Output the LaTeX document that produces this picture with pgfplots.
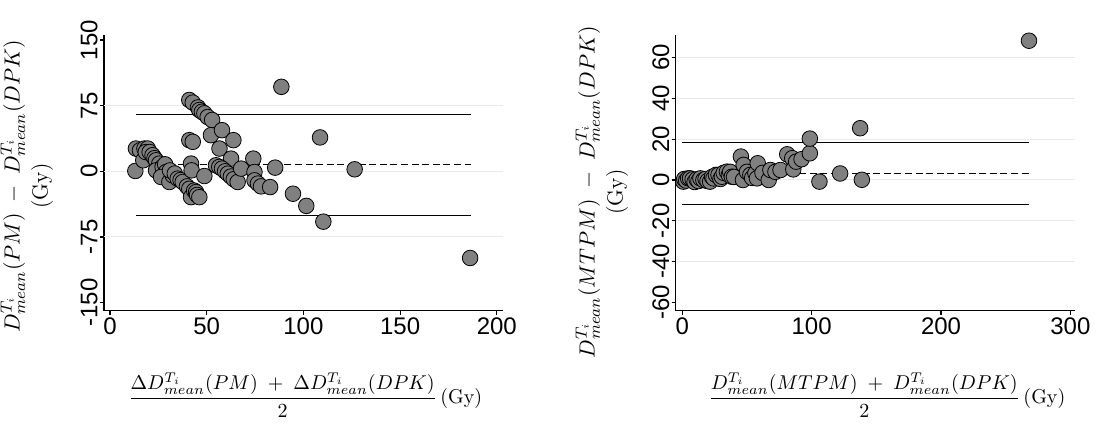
\documentclass[border=0pt]{standalone}
\usepackage{fontspec}
\usepackage{amsmath}
\usepackage{pgfplots}
\usepackage{pgfplotstable}
\pgfplotsset{compat=1.18}
\newfontfamily\arial{Liberation Sans}
\definecolor{mk}{RGB}{128,128,128}
\definecolor{grd}{RGB}{234,234,234}

\pgfplotstableread{
x y
13.1 0.4
13.4 26
15.5 24
17.2 12.6
17.8 26
19.5 26
18.5 22
20.5 22
22.0 18.4
23.0 15
23.8 12.6
25.5 8.8
23.8 1.1
27.2 5
28.5 8.0
29.0 -0.8
26.4 -6.5
30.7 -12.2
32.4 -4.6
31.0 1
33.5 -2.5
35.0 -8.4
36.5 -10
37.6 -12.2
39.8 -17.2
41.0 -20
41.9 -29.5
43.5 -22
44.5 -23.7
45.0 -27
46.2 -29.5
41.0 35.6
42.8 33.7
41.9 8.8
42.2 1.1
48.8 -5.4
41.0 81.5
42.8 78.5
45.5 73
46.2 70
47.5 68
48.8 66.2
50.5 62
52.8 58.6
52.2 41.3
57.9 47
63.8 35.6
56.6 26
62.6 14.5
54.8 6.9
56.5 5
57.9 3.1
59.5 0
60.9 -2.7
62.5 -6
64.0 -9
66.0 -12.2
67.8 3.1
74.1 14.5
74.7 -0.8
74.7 -10.3
76.5 -14
78.1 -17.2
82.8 -18
85.4 4.2
88.6 96.5
94.6 -25.6
101.5 -39.5
108.6 38.7
110.3 -57.5
126.5 2.3
186.2 -99
}\leftdata

\pgfplotstableread{
x y
0.8 -0.8
1.5 0.5
3.0 -0.3
4.5 0.8
6.0 0.8
8.0 0.3
9.5 -1
11.1 0.3
12.5 -0.5
14.0 0.8
16.3 0
18.0 0.5
19.5 -0.5
21.5 -0.8
23.0 1.5
24.1 0.8
26.0 2.5
28.0 2.5
29.5 0.5
30.6 1.6
32.0 3.5
34.5 4.1
36.0 2.5
37.0 4
38.3 1.6
40.0 1.5
45.3 11.5
46.9 0
47.4 7.4
50.0 4
52.6 2.5
54.0 1
56.5 3.3
57.7 0.8
58.3 8.2
62.0 3.5
66.8 0
68.1 4.9
72.0 4
75.9 4.9
81.1 12.6
85.0 10.7
85.8 5.2
88.0 9
92.2 10.2
98.6 13.1
98.6 20.3
106.0 -0.8
122.0 3.2
137.5 25.4
138.8 0.1
268.0 68.3
}\rightdata

\pgfplotsset{
  bstyle/.style={
    scale only axis, width=199.6pt, height=137.75pt,
    axis x line=bottom, axis y line=left,
    axis line style={-, line width=0.6pt, black},
    tick align=outside, major tick length=2pt,
    tick style={black, line width=0.6pt},
    ticklabel style={font=\arial\fontsize{12}{14}\selectfont},
    /pgf/number format/assume math mode=true,
    yticklabel style={rotate=90, anchor=south, inner sep=1pt},
    xticklabel style={anchor=north, inner sep=1.5pt},
    clip=false,
    extra y tick style={grid=major, major grid style={grd, line width=0.5pt}},
    extra y tick labels={},
    minor tick num=0,
    every axis y label/.style={rotate=90, anchor=center, align=center, font=\fontsize{11}{14}\selectfont},
    every axis x label/.style={anchor=center, font=\fontsize{10}{12}\selectfont},
  },
  sc/.style={only marks, mark=*, mark size=3.9pt, mark options={fill=mk, draw=black, line width=0.4pt}},
  refl/.style={black, line width=0.5pt, no marks},
}

\begin{document}
\begin{tikzpicture}
\useasboundingbox (0,0) rectangle (553.5pt,217.5pt);
\begin{axis}[bstyle, at={(52pt,62.25pt)}, anchor=south west,
  xmin=-3.1, xmax=203.3, ymin=-159, ymax=155.7,
  xtick={0,50,100,150,200}, ytick={-150,-75,0,75,150},
  extra y ticks={-75,0,75},
  xlabel={$\dfrac{\Delta D^{T_i}_{mean}(PM)\;+\;\Delta D^{T_i}_{mean}(DPK)}{2}$\,(Gy)},
  ylabel={$D^{T_i}_{mean}(PM)\;-\;D^{T_i}_{mean}(DPK)$\\(Gy)},
  xlabel style={at={(axis description cs:0.504,-0.307)}},
  ylabel style={at={(axis description cs:-0.193,0.452)}},
]
\addplot[refl] coordinates {(13.4,64.9) (186.6,64.9)};
\addplot[refl] coordinates {(13.4,-50.8) (186.6,-50.8)};
\addplot[refl, dash pattern=on 3.5pt off 1.8pt] coordinates {(13.4,7.5) (186.6,7.5)};
\addplot[sc] table[x=x,y=y] {\leftdata};
\end{axis}

\begin{axis}[bstyle, at={(337.85pt,62.25pt)}, anchor=south west,
  xmin=-5.1, xmax=303.5, ymin=-64, ymax=71.1,
  xtick={0,100,200,300}, ytick={-60,-40,-20,0,20,40,60},
  extra y ticks={-40,-20,0,20,40,60},
  xlabel={$\dfrac{D^{T_i}_{mean}(MTPM)\;+\;D^{T_i}_{mean}(DPK)}{2}$\,(Gy)},
  ylabel={$D^{T_i}_{mean}(MTPM)\;-\;D^{T_i}_{mean}(DPK)$\\(Gy)},
  xlabel style={at={(axis description cs:0.529,-0.307)}},
  ylabel style={at={(axis description cs:-0.185,0.43)}},
]
\addplot[refl] coordinates {(0,18.5) (268,18.5)};
\addplot[refl] coordinates {(0,-11.9) (268,-11.9)};
\addplot[refl, dash pattern=on 3.5pt off 1.8pt] coordinates {(0,3.3) (268,3.3)};
\addplot[sc] table[x=x,y=y] {\rightdata};
\end{axis}
\end{tikzpicture}
\end{document}
